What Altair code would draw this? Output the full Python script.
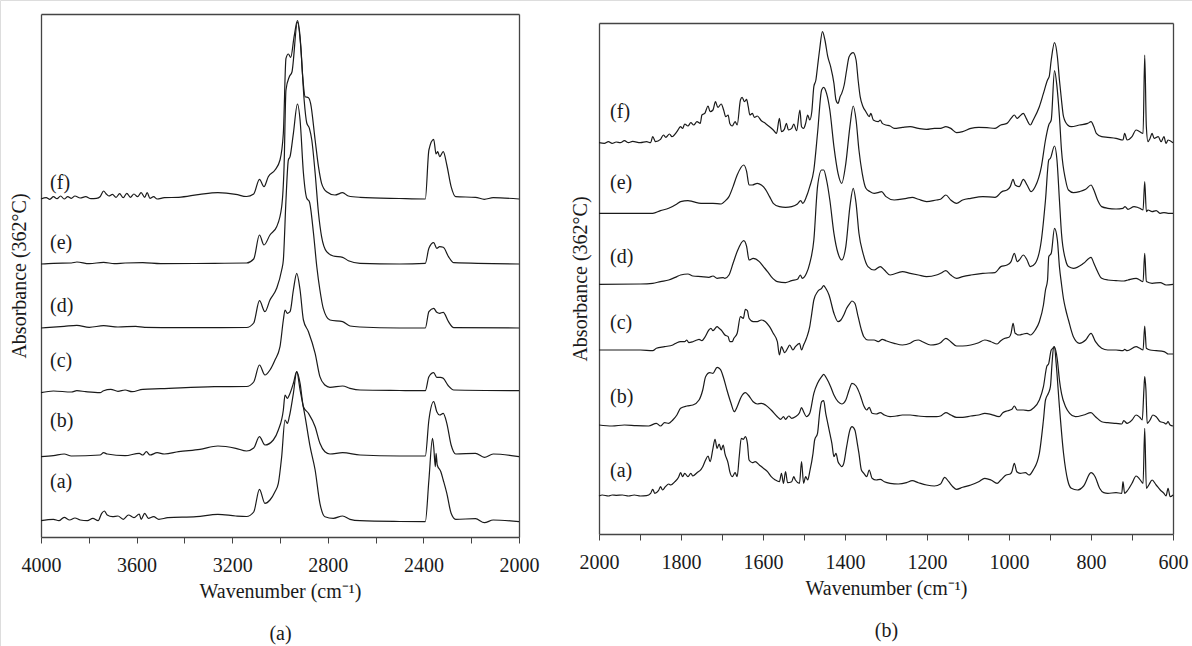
import altair as alt
import pandas as pd

W, H = 1192, 646
FONT = "Liberation Serif"
INK = "#1a1a1a"
FRAME = "#444444"

# ---------------- Panel (a): 4000-2000 cm-1, (wavenumber, absorbance above own baseline) --------------
LEFT_A = [(4000,1.3),(3948,2.7),(3925,1.3),(3903,4.7),(3880,2),(3858,4),(3836,2),(3806,1.3),(3783,3.7),(3761,1.3),(3746,8.7),(3735,11),(3723,7),(3701,5.3),(3678,6),(3656,2.7),(3634,7),(3611,4.3),(3589,8),(3581,2.7),(3566,8.7),(3551,3.7),(3529,5.3),(3507,2.7),(3469,4.3),(3350,5.3),(3260,7.7),(3185,6),(3140,5.5),(3110,10),(3086,32.7),(3063,18.7),(3042,22),(3021,30.3),(3007,38.7),(2993,65.3),(2979,102),(2969,98.7),(2961,105.3),(2944,128.7),(2930,150.3),(2916,132),(2895,105.3),(2874,75.3),(2853,52),(2833,18.7),(2812,5.3),(2777,3.7),(2738,6),(2707,2.7),(2665,1.3),(2500,0.5),(2392,0.3),(2377,42),(2362,83.7),(2357,75.3),(2350,55.3),(2347,68.7),(2342,57),(2327,50.3),(2317,42),(2302,28.7),(2284,8.7),(2265,2.7),(2182,3.3),(2145,-0.7),(2108,2),(2000,0.3)]
LEFT_B = [(4000,0.3),(3948,1.3),(3903,3),(3873,1),(3753,2),(3738,4.3),(3723,3),(3648,1.3),(3589,3.7),(3574,2),(3559,5.3),(3544,2),(3514,4.3),(3484,3),(3424,5.3),(3335,7.7),(3260,11),(3185,8.7),(3140,6),(3110,9),(3086,20.3),(3063,12),(3028,17),(3007,27),(2986,47),(2979,62),(2969,58.7),(2961,62),(2944,73.7),(2930,85.3),(2916,73.7),(2902,50.3),(2881,43.7),(2853,30.3),(2833,13.7),(2812,5.3),(2791,3),(2738,4.3),(2665,2),(2500,1),(2392,1),(2377,37),(2357,55.3),(2344,45.3),(2332,42),(2317,43.7),(2302,33.7),(2284,12),(2265,3),(2182,3.7),(2145,-0.3),(2108,3),(2000,0.3)]
LEFT_C = [(4000,-1.7),(3948,0),(3873,-1),(3850,0.3),(3813,-0.7),(3753,-1.7),(3738,0.3),(3708,1.7),(3678,-0.3),(3648,1),(3619,-0.7),(3574,1.7),(3499,2.3),(3275,4.3),(3140,4.5),(3110,9),(3086,26),(3063,16),(3042,21),(3021,31),(3000,44.3),(2986,71),(2979,81),(2969,77.7),(2958,79.3),(2944,101),(2930,117.7),(2916,101),(2902,71),(2881,59.3),(2853,37.7),(2833,14.3),(2812,6),(2791,3.7),(2738,5),(2707,2.7),(2665,1),(2500,0.5),(2392,0.3),(2377,14.3),(2357,18.3),(2344,13.7),(2329,13.7),(2317,12.7),(2295,5),(2273,1),(2000,0.3)]
LEFT_D = [(4000,0),(3903,1.7),(3850,2.7),(3798,0.7),(3738,2.3),(3678,1),(3604,1.7),(3566,0.7),(3424,0.3),(3140,0.5),(3110,5),(3086,27.3),(3063,16.3),(3042,28),(3014,39.7),(2993,58),(2986,68),(2975,128),(2965,168),(2958,171.3),(2944,194.7),(2927,224),(2916,208),(2902,155),(2888,129.7),(2877,126.3),(2860,95),(2846,61.3),(2833,38),(2819,19.7),(2791,8),(2738,6.3),(2707,2),(2665,1),(2500,0),(2392,0),(2377,16.3),(2357,19.7),(2344,15.7),(2332,14.7),(2317,15.7),(2295,6.3),(2273,0.3),(2000,0)]
LEFT_E = [(4000,0),(3948,0.7),(3873,1),(3850,2),(3798,0.3),(3738,1.7),(3693,0.3),(3648,1),(3574,1.3),(3499,0.3),(3275,0.7),(3140,1),(3110,5),(3086,29),(3067,19),(3042,29),(3014,37.3),(2993,57.3),(2983,97.3),(2975,174),(2961,187.3),(2950,192),(2927,242),(2913,217),(2899,164),(2888,141),(2877,135.7),(2867,124),(2853,91),(2839,51),(2826,27.3),(2805,12.3),(2777,8),(2738,6.7),(2714,3.3),(2665,0.7),(2500,0),(2392,0.7),(2377,15.7),(2357,21.3),(2344,15.7),(2332,17.3),(2317,16.7),(2295,7.3),(2273,1.3),(2000,0)]
LEFT_F = [(4000,0),(3978,1.3),(3963,-0.3),(3948,2.3),(3933,0.3),(3918,3),(3903,0),(3888,2.3),(3873,0.7),(3858,3),(3836,1),(3813,2.3),(3791,0.3),(3768,0.7),(3753,2.3),(3738,8),(3728,5.3),(3716,3),(3701,4.7),(3686,1.7),(3671,5.3),(3656,1.3),(3641,5.7),(3626,1.7),(3611,5),(3596,2.3),(3581,6.3),(3566,1.7),(3556,6.3),(3544,0.7),(3529,2.3),(3514,0),(3484,1.3),(3424,1.7),(3335,4.7),(3260,6.3),(3185,4.7),(3140,2.5),(3110,5),(3086,19.7),(3067,12.3),(3049,22.3),(3021,29),(3000,39),(2986,65.7),(2975,140.7),(2965,145),(2955,141.7),(2941,162.3),(2927,178.3),(2916,162.3),(2905,122.3),(2895,102.3),(2881,101.3),(2872,95.7),(2853,59),(2839,32.3),(2826,15.7),(2805,7.3),(2770,4),(2738,6.3),(2714,3),(2665,1.7),(2500,0.5),(2392,0),(2377,49),(2357,59.7),(2347,45),(2340,47.3),(2332,42.3),(2317,47.3),(2302,34),(2284,12.3),(2265,2.3),(2182,1.7),(2145,-0.3),(2108,1.3),(2000,0)]
LEFT_OFFSETS = {"a": 15, "b": 80, "c": 146, "d": 209, "e": 273, "f": 338}
LEFT_LABEL_WN = 3962
LEFT_LABEL_Y = {"a": 55, "b": 116, "c": 176, "d": 231, "e": 294, "f": 354}

# ---------------- Panel (b): 2000-600 cm-1 --------------
RIGHT_A = [(2000,0),(1992,1),(1977,0),(1968,1),(1958,0.7),(1943,1),(1928,0),(1914,1),(1899,0),(1884,0.3),(1874,2.7),(1869,6.7),(1864,2.7),(1855,5.3),(1850,9.3),(1845,6),(1838,9.3),(1830,12),(1825,11),(1815,14.3),(1806,18.7),(1801,23.3),(1796,19.3),(1791,22.7),(1783,19.3),(1776,22.7),(1771,20),(1761,23.3),(1751,26.7),(1747,29.3),(1740,36),(1734,40),(1729,34.3),(1722,47.7),(1717,56.7),(1712,47.7),(1707,52),(1702,46),(1697,51),(1693,42.7),(1685,32.7),(1681,24.3),(1675,19.3),(1668,23.3),(1663,19.3),(1658,39.3),(1653,57.7),(1648,56.7),(1643,59.3),(1638,52.7),(1634,36),(1626,33.3),(1619,34.3),(1609,31),(1599,27.7),(1589,24.3),(1580,19.3),(1570,16),(1560,14.3),(1555,22.7),(1550,12.7),(1545,24.3),(1540,13.3),(1530,14.3),(1525,19.3),(1521,16),(1511,12.7),(1506,34.3),(1501,12.7),(1496,19.3),(1491,16),(1486,24.3),(1478,42.7),(1474,56),(1467,62.7),(1462,82.7),(1457,94.3),(1452,95.3),(1447,82.7),(1442,72.7),(1437,62.7),(1432,52.7),(1427,39.3),(1422,42.7),(1417,34.3),(1412,31),(1408,29.3),(1403,32.7),(1396,49.3),(1388,66),(1383,69.3),(1376,66),(1370,52.7),(1366,42.7),(1360,26),(1354,22.7),(1347,19.3),(1341,26),(1334,17.7),(1324,16),(1314,16.7),(1304,14.3),(1290,12.7),(1270,12),(1250,13.3),(1236,15.3),(1221,13.3),(1201,11),(1182,10),(1167,12),(1157,18.7),(1147,14.3),(1137,9.3),(1128,6.7),(1113,8.7),(1093,11),(1074,14.3),(1059,17.7),(1044,16),(1029,12.7),(1020,16),(1007,21),(997,22),(993,24.3),(987,32.7),(981,24.3),(973,22.7),(960,23.3),(951,21),(941,26),(926,42.7),(916,76),(911,96),(904,102.7),(899,109.3),(895,132.7),(891,149.3),(889,149.3),(885,132.7),(877,89.3),(867,42.7),(857,16),(848,7.7),(833,6),(818,10),(800,23.3),(790,19.3),(779,7.7),(769,3.3),(759,2.7),(739,3.3),(725,2.7),(722,14.3),(718,2.7),(710,6),(700,12.7),(690,20),(681,16.7),(673,12.7),(669,67.7),(665,7.7),(659,11),(651,16),(641,11),(631,6),(622,2.7),(617,0),(612,7.7),(607,-0.7),(600,1)]
RIGHT_B = [(2000,1),(1968,0),(1938,1),(1909,0.3),(1879,0),(1860,2.7),(1850,0),(1840,3.3),(1830,2.7),(1820,6),(1810,11),(1801,17.7),(1786,20),(1771,21),(1756,26),(1747,36),(1740,49.3),(1730,53.3),(1722,52.7),(1712,58.7),(1704,56.7),(1697,49.3),(1688,36),(1678,22.7),(1670,14.3),(1663,19.3),(1653,29.3),(1643,33.3),(1636,31),(1624,24.3),(1614,22),(1604,22.7),(1594,21),(1580,16),(1565,9.3),(1557,6.7),(1550,9.3),(1545,6.7),(1537,10),(1530,7.7),(1521,9.3),(1511,13.3),(1506,18.3),(1501,14.3),(1494,9.3),(1486,12.7),(1476,32.7),(1467,42.7),(1457,49.3),(1452,51.7),(1445,47.7),(1435,39.3),(1427,31),(1417,24.3),(1408,22),(1398,26),(1390,36),(1383,42.7),(1373,40),(1363,31),(1354,20),(1347,16),(1341,18.7),(1334,12.7),(1324,12),(1314,13.3),(1304,11),(1290,9.3),(1275,10),(1260,11),(1241,11),(1221,10),(1201,9.3),(1177,9.3),(1167,10),(1154,13.3),(1142,11),(1128,8.7),(1113,8.7),(1093,10),(1074,11),(1059,12.7),(1044,11.7),(1024,9.3),(1015,13.3),(1003,15.3),(993,16.7),(987,20),(980,16),(965,16),(951,15.3),(941,17.7),(926,26),(916,39.3),(908,59.3),(903,62.7),(897,76),(889,78.7),(882,66),(877,46),(872,32.7),(862,19.3),(852,12.7),(838,9.3),(818,11),(800,13.3),(789,9.3),(774,4.3),(759,3.3),(739,2.7),(725,2),(720,5.3),(712,2.7),(700,6),(690,11),(681,8.7),(675,6),(671,36),(669,49.3),(666,36),(663,2.7),(656,6),(649,11),(641,9.3),(631,4.3),(622,3.3),(617,2),(612,4.3),(607,1),(600,0)]
RIGHT_C = [(2000,4),(1948,4),(1899,4),(1869,3.3),(1860,5.7),(1840,7.3),(1820,9),(1810,11.3),(1801,12.3),(1791,12.3),(1786,14),(1781,11.3),(1771,12.3),(1761,14),(1756,14.7),(1749,13.3),(1742,16.7),(1732,24),(1727,25.7),(1722,23.3),(1712,27.3),(1707,25.7),(1702,24),(1693,19),(1685,17.3),(1681,12.3),(1675,12.3),(1671,15.7),(1663,20.7),(1655,37.3),(1648,35.7),(1643,44.7),(1638,43.3),(1634,35.7),(1624,32.3),(1614,32.3),(1604,34),(1594,32.3),(1584,27.3),(1575,20.7),(1565,12.3),(1560,-1),(1555,7.3),(1547,1.3),(1540,5.7),(1535,9),(1527,4),(1521,7.3),(1511,10.7),(1506,4),(1501,9),(1494,15.7),(1486,27.3),(1481,40.7),(1476,54),(1467,62.3),(1457,65.7),(1452,68.3),(1447,65.7),(1439,59),(1427,40.7),(1417,32.3),(1410,34),(1403,39),(1396,45.7),(1388,50.7),(1383,53),(1376,50.7),(1368,37.3),(1360,24),(1354,17.3),(1344,14),(1329,14),(1319,12.3),(1309,14.7),(1300,13.3),(1280,10.7),(1260,9),(1241,10.7),(1231,13.3),(1221,14),(1211,12.3),(1191,9),(1177,9.7),(1167,11.3),(1154,15.7),(1142,12.3),(1128,8),(1113,8),(1093,9),(1074,11.3),(1059,14),(1044,12.3),(1029,10),(1020,13.3),(1010,15.7),(1000,16.7),(995,20.7),(990,30.7),(985,20.7),(975,19),(965,20),(956,20.7),(948,19),(936,24),(926,32.3),(916,49),(911,64),(906,74),(903,97.3),(897,100.7),(889,125.7),(882,114),(877,87.3),(872,70),(867,55),(862,45),(855,34),(843,17.3),(828,10.7),(813,14),(800,20.7),(789,12.3),(774,5.7),(759,4),(739,4),(722,3.3),(718,4.7),(712,3.3),(690,7.3),(681,5.7),(673,4),(669,28),(665,5.7),(656,4),(641,3.3),(622,2.3),(617,1.3),(612,0),(600,0)]
RIGHT_D = [(2000,0),(1899,0.3),(1869,1),(1850,2.7),(1830,4.3),(1810,7.7),(1801,9.3),(1783,10.3),(1771,8.3),(1751,7.7),(1732,7),(1722,8.3),(1712,6),(1697,6.7),(1693,6),(1683,9.3),(1673,21),(1663,32.7),(1647,43.7),(1640,38),(1634,24.3),(1624,26),(1609,22.7),(1599,17.7),(1589,12.7),(1580,7.7),(1565,2.7),(1545,1.7),(1530,3.7),(1516,5),(1509,9.3),(1504,6),(1494,11),(1486,21),(1476,44.3),(1467,97.7),(1457,114.3),(1452,114.3),(1445,104.3),(1437,84.3),(1427,51),(1417,31),(1408,24.3),(1398,37.7),(1388,77.7),(1380,96),(1373,81),(1366,51),(1356,31),(1344,17.7),(1329,14.3),(1314,17.7),(1304,14.3),(1290,9.3),(1260,12.7),(1241,11),(1221,9.3),(1201,7.7),(1177,9.3),(1167,11),(1154,13.7),(1142,9.3),(1128,6),(1113,7.7),(1093,9.3),(1064,11),(1034,11.7),(1020,17.7),(1005,19.3),(995,22.7),(987,31),(980,22.7),(975,24.3),(965,29.3),(956,24.3),(948,17.7),(936,21),(921,44.3),(911,84.3),(903,124.3),(899,126),(889,138.3),(883,124.3),(877,84.3),(872,51),(862,24.3),(855,17.7),(843,16),(818,21),(800,27),(793,21),(784,12.7),(774,6),(759,4.3),(739,3.7),(720,3.3),(710,4.3),(690,6),(681,4.3),(673,2.7),(669,31),(665,2.7),(651,1),(631,1.7),(617,-0.7),(600,0)]
RIGHT_E = [(2000,0),(1948,0),(1869,0),(1850,2.7),(1830,5),(1810,9.3),(1801,11.7),(1783,12.7),(1771,11.7),(1751,10),(1722,10),(1702,9.3),(1694,11.7),(1683,16.7),(1673,26.7),(1663,38.3),(1647,48.3),(1640,42),(1634,28.3),(1626,28.3),(1614,30),(1604,28.3),(1594,24),(1584,16.7),(1575,10),(1560,6.7),(1545,6),(1530,6.7),(1516,9.3),(1508,12.7),(1503,10),(1494,16.7),(1486,26.7),(1476,43.3),(1467,80),(1457,123.3),(1452,126),(1445,120),(1437,103.3),(1427,66.7),(1417,40),(1408,30),(1398,50),(1388,86.7),(1380,107.3),(1373,93.3),(1366,63.3),(1358,40),(1349,25),(1339,21.7),(1329,20),(1319,20.7),(1311,21.7),(1300,16.7),(1280,13.3),(1250,15),(1236,16),(1221,14),(1201,11.7),(1177,13.3),(1167,14),(1154,18.3),(1142,13.3),(1128,10),(1113,13.3),(1093,15),(1064,16.7),(1034,16),(1017,21.7),(1005,23.3),(997,26.7),(990,34),(985,28.3),(975,26.7),(965,34),(956,28.3),(946,21.7),(936,26.7),(921,46.7),(911,73.3),(903,88.3),(897,93.3),(889,142.7),(883,126.7),(877,96.7),(872,63.3),(862,33.3),(855,23.3),(843,20.7),(828,21.7),(813,24),(800,28.3),(793,23.3),(784,13.3),(774,6.7),(759,5),(739,4.3),(722,5),(717,6.7),(710,4),(695,6.7),(687,6),(681,5),(673,3.3),(669,31.7),(665,1.7),(661,3.3),(651,1.7),(641,2.7),(631,0),(622,0.7),(612,0),(600,0)]
RIGHT_F = [(2000,0),(1987,-0.7),(1977,1),(1968,-0.7),(1958,0.7),(1948,0),(1938,2),(1928,0),(1918,1.3),(1899,0),(1884,1),(1874,0),(1869,6),(1862,1),(1850,3.3),(1843,7.7),(1837,5.3),(1828,8.7),(1822,6),(1810,11),(1801,16),(1796,14.3),(1791,18.7),(1783,16.7),(1776,20),(1769,17.7),(1761,21),(1753,19.3),(1749,27.7),(1742,29.3),(1734,36.7),(1729,31),(1722,32.7),(1716,41),(1710,35.3),(1702,38.7),(1696,32.7),(1691,26),(1685,27.7),(1681,19.3),(1675,16.7),(1668,21),(1663,17.7),(1655,42.7),(1651,45.3),(1645,41),(1640,43.3),(1636,36),(1632,27.7),(1626,29.3),(1621,25.3),(1614,26.7),(1604,22),(1594,19.3),(1584,16),(1575,12.7),(1567,9.3),(1560,24.3),(1555,11),(1548,13.3),(1543,19.3),(1538,12.7),(1530,14.3),(1525,18.7),(1518,12),(1510,32.7),(1506,16),(1501,14.3),(1496,19.3),(1491,27.7),(1486,22.7),(1481,31),(1476,56),(1471,62.7),(1467,76),(1462,92.7),(1455,111),(1449,102.7),(1442,86),(1435,76),(1427,59.3),(1422,42.7),(1417,39.3),(1412,46),(1408,49.3),(1402,57.7),(1396,72.7),(1390,86),(1380,90),(1373,82.7),(1368,62.7),(1363,46),(1356,36),(1349,31),(1341,26),(1337,29.3),(1331,22.7),(1319,21),(1314,22.7),(1309,19.3),(1300,17.7),(1290,16.7),(1280,14.3),(1260,15.3),(1241,16),(1221,14.3),(1201,13.3),(1182,14.3),(1167,14.3),(1154,16),(1142,14.3),(1128,10),(1113,11),(1093,14.3),(1074,15.3),(1054,15),(1034,14.3),(1020,17.7),(1005,19.3),(995,24.3),(987,27.7),(980,24.3),(975,26),(965,29.3),(958,24.3),(948,17.7),(941,22.7),(926,36),(916,49.3),(906,62.7),(902,66),(897,82.7),(889,100),(882,86),(877,62.7),(872,42.7),(867,26),(857,17.7),(848,16),(828,17.7),(808,19.3),(800,21),(793,16),(787,9.3),(774,6),(759,5.3),(739,4.3),(722,2.7),(718,9.3),(712,2.7),(700,6),(690,12.7),(681,11),(673,9.3),(669,87.7),(665,16),(661,1),(656,4.3),(651,9.3),(646,4.3),(636,6),(629,1),(622,6),(617,-0.7),(612,2.7),(600,0)]
RIGHT_OFFSETS = {"a": 38, "b": 108, "c": 180, "d": 249.7, "e": 320.7, "f": 391.3}
RIGHT_LABEL_WN = 1973
RIGHT_LABEL_Y = {"a": 63.3, "b": 137.3, "c": 210.7, "d": 277.3, "e": 351.3, "f": 422.3}

LEFT_TICKS = list(range(4000, 1999, -200))
RIGHT_TICKS = list(range(2000, 599, -100))
X_TITLE = "Wavenumber (cm\u207b\u00b9)"
Y_TITLE = "Absorbance (362\u00b0C)"


def spectra_frame(curves, offsets):
    rows = []
    for key, pts in curves.items():
        for wn, a in pts:
            rows.append({"wn": wn, "A": offsets[key] + a, "curve": key})
    return pd.DataFrame(rows)


def label_frame(label_wn, label_y):
    return pd.DataFrame([{"wn": label_wn, "A": v, "text": f"({k})"} for k, v in label_y.items()])


def x_bottom_axis(values, step, offset, title):
    return alt.Axis(orient="bottom", offset=offset, values=values,
                    labelExpr=f"datum.value % {step} == 0 ? datum.label : ''", format="d",
                    tickSize=6, tickWidth=1, tickColor=FRAME, domainColor=FRAME, domainWidth=1.3,
                    labelFont=FONT, labelFontSize=20, labelColor=INK, labelPadding=12,
                    labelFlush=False, labelOverlap=False, grid=False,
                    title=title, titleFont=FONT, titleFontSize=20, titleFontWeight="normal",
                    titleColor=INK, titlePadding=6, titleLineHeight=42)


def y_left_axis(offset, pad):
    return alt.Axis(orient="left", offset=offset, labels=False, ticks=False, grid=False,
                    domainColor=FRAME, domainWidth=1.3, title=Y_TITLE, titleFont=FONT,
                    titleFontSize=20, titleFontWeight="normal", titleColor=INK, titlePadding=pad)


def plain_axis(orient, offset):
    return alt.Axis(orient=orient, offset=offset, labels=False, ticks=False, grid=False,
                    domainColor=FRAME, domainWidth=1.3, title=None)


def panel(curves, offsets, xdom, xrange, ydom, yrange, ticks, step, sub, ypad, labels):
    xs = alt.Scale(domain=xdom, range=xrange, nice=False, zero=False)
    ys = alt.Scale(domain=ydom, range=yrange, nice=False, zero=False)
    lines = alt.Chart(spectra_frame(curves, offsets)).mark_line(
        color=INK, strokeWidth=1.2, interpolate="monotone").encode(
        x=alt.X("wn:Q", scale=xs, axis=x_bottom_axis(ticks, step, yrange[0] - H,
                                                      [X_TITLE, sub])),
        y=alt.Y("A:Q", scale=ys, axis=y_left_axis(-xrange[0], ypad)),
        detail="curve:N")
    frame = alt.Chart(pd.DataFrame({"wn": [xdom[0]], "A": [ydom[0]]})).mark_point(opacity=0).encode(
        x=alt.X("wn:Q", scale=xs, axis=plain_axis("top", -yrange[1])),
        y=alt.Y("A:Q", scale=ys, axis=plain_axis("right", xrange[1] - W)))
    text = alt.Chart(labels).mark_text(align="left", baseline="middle", font=FONT,
                                       fontSize=20, color=INK).encode(
        x=alt.X("wn:Q", scale=xs, axis=None),
        y=alt.Y("A:Q", scale=ys, axis=None),
        text="text:N")
    return [lines, frame, text]


left = panel({"a": LEFT_A, "b": LEFT_B, "c": LEFT_C, "d": LEFT_D, "e": LEFT_E, "f": LEFT_F},
             LEFT_OFFSETS, [4000, 2000], [41, 519], [0, 523], [537, 14], LEFT_TICKS, 400, "(a)", 12,
             label_frame(LEFT_LABEL_WN, LEFT_LABEL_Y))
right = panel({"a": RIGHT_A, "b": RIGHT_B, "c": RIGHT_C, "d": RIGHT_D, "e": RIGHT_E, "f": RIGHT_F},
              RIGHT_OFFSETS, [2000, 600], [599, 1173], [0, 511], [534, 23], RIGHT_TICKS, 200, "(b)", 9,
              label_frame(RIGHT_LABEL_WN, RIGHT_LABEL_Y))

chart = alt.layer(*left, *right).resolve_scale(
    x="independent", y="independent").resolve_axis(x="independent", y="independent").properties(
    width=W, height=H, padding=0, autosize=alt.AutoSizeParams(type="none")
).configure_view(stroke=None).configure(font=FONT, background="white")

chart.save("out.html", embed_options={"renderer": "svg", "actions": False})
